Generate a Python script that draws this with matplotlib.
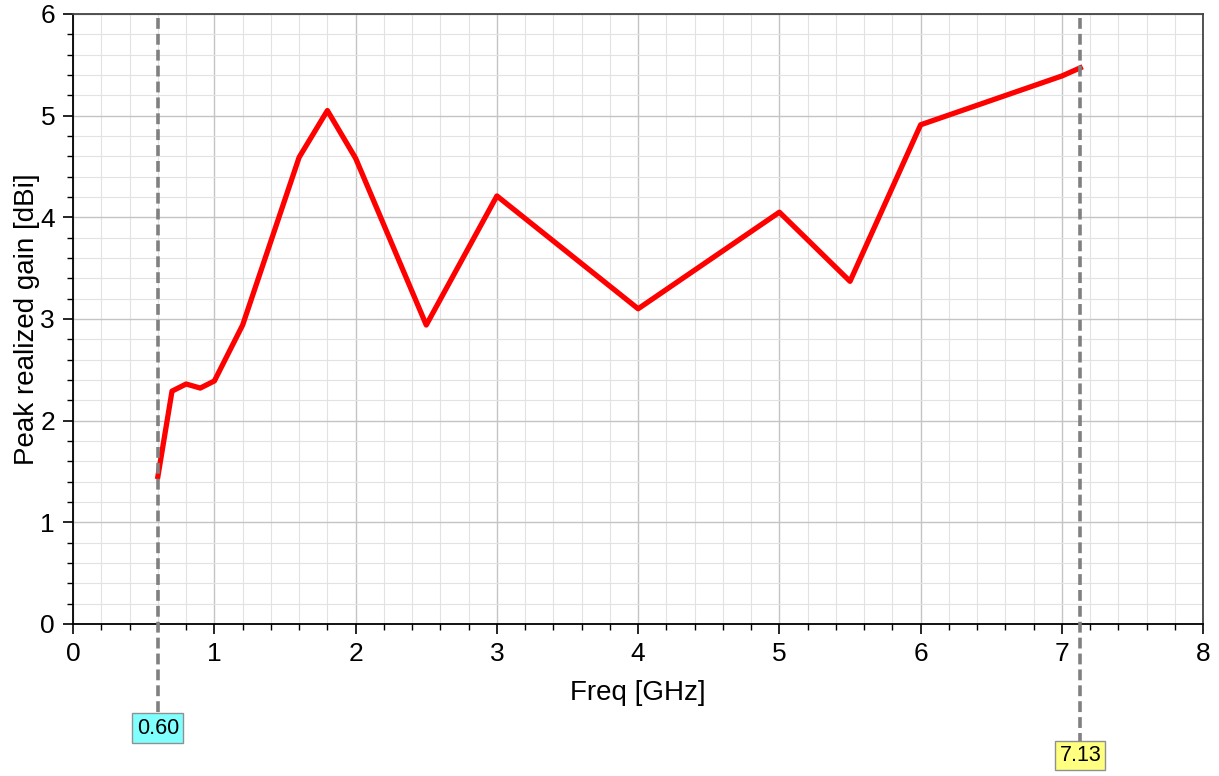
import matplotlib
matplotlib.use("Agg")
import matplotlib.pyplot as plt
import matplotlib.transforms as mtransforms
from matplotlib.ticker import MultipleLocator

plt.rcParams['font.family'] = ['Liberation Sans', 'DejaVu Sans']

# data
freq = [0.6, 0.7, 0.8, 0.9, 1.0, 1.2, 1.6, 1.8, 2.0, 2.5, 3.0, 4.0, 5.0, 5.5, 6.0, 7.0, 7.13]
gain = [1.45, 2.29, 2.36, 2.32, 2.39, 2.94, 4.59, 5.05, 4.58, 2.94, 4.21, 3.10, 4.05, 3.37, 4.91, 5.39, 5.47]

marker_x = [0.60, 7.13]
marker_lbl = ["0.60", "7.13"]
marker_fill = ["#80ffff", "#ffff80"]

fig = plt.figure(figsize=(12.19, 7.76), dpi=100)
ax = fig.add_axes([0.060, 0.196, 0.927, 0.786])

ax.plot(freq, gain, color='#ff0000', linewidth=3.8, solid_joinstyle='round', zorder=4)

ax.set_xlim(0, 8)
ax.set_ylim(0, 6)
ax.xaxis.set_major_locator(MultipleLocator(1))
ax.xaxis.set_minor_locator(MultipleLocator(0.2))
ax.yaxis.set_major_locator(MultipleLocator(1))
ax.yaxis.set_minor_locator(MultipleLocator(0.2))

ax.grid(which='major', color='#c4c4c4', linewidth=1.0)
ax.grid(which='minor', color='#e2e2e2', linewidth=0.8)
ax.set_axisbelow(True)

ax.tick_params(which='major', direction='out', length=7, width=1.2, labelsize=19,
               pad=6, colors='black')
ax.tick_params(which='minor', direction='out', length=4, width=1.0)

for s in ['left', 'bottom']:
    ax.spines[s].set_color('black')
    ax.spines[s].set_linewidth(1.3)
for s in ['top', 'right']:
    ax.spines[s].set_color('#444444')
    ax.spines[s].set_linewidth(1.3)

ax.set_xlabel("Freq [GHz]", fontsize=20, labelpad=10)
ax.set_ylabel("Peak realized gain [dBi]", fontsize=20, labelpad=0)

# vertical markers extending below the axes to their value boxes
trans = mtransforms.blended_transform_factory(ax.transData, ax.transAxes)
lbl_y = [-0.171, -0.216]
for x, t, c, yy in zip(marker_x, marker_lbl, marker_fill, lbl_y):
    ax.plot([x, x], [0.993, yy], transform=trans, clip_on=False,
            color='#808080', linewidth=2.6, linestyle=(0, (3.0, 1.4)), zorder=5)
    ax.text(x, yy, t, transform=trans, ha='center', va='center', fontsize=15.5,
            bbox=dict(boxstyle='square,pad=0.2', facecolor=c, edgecolor='#909090', linewidth=1),
            zorder=6, clip_on=False)

fig.savefig('out.png', dpi=100)
